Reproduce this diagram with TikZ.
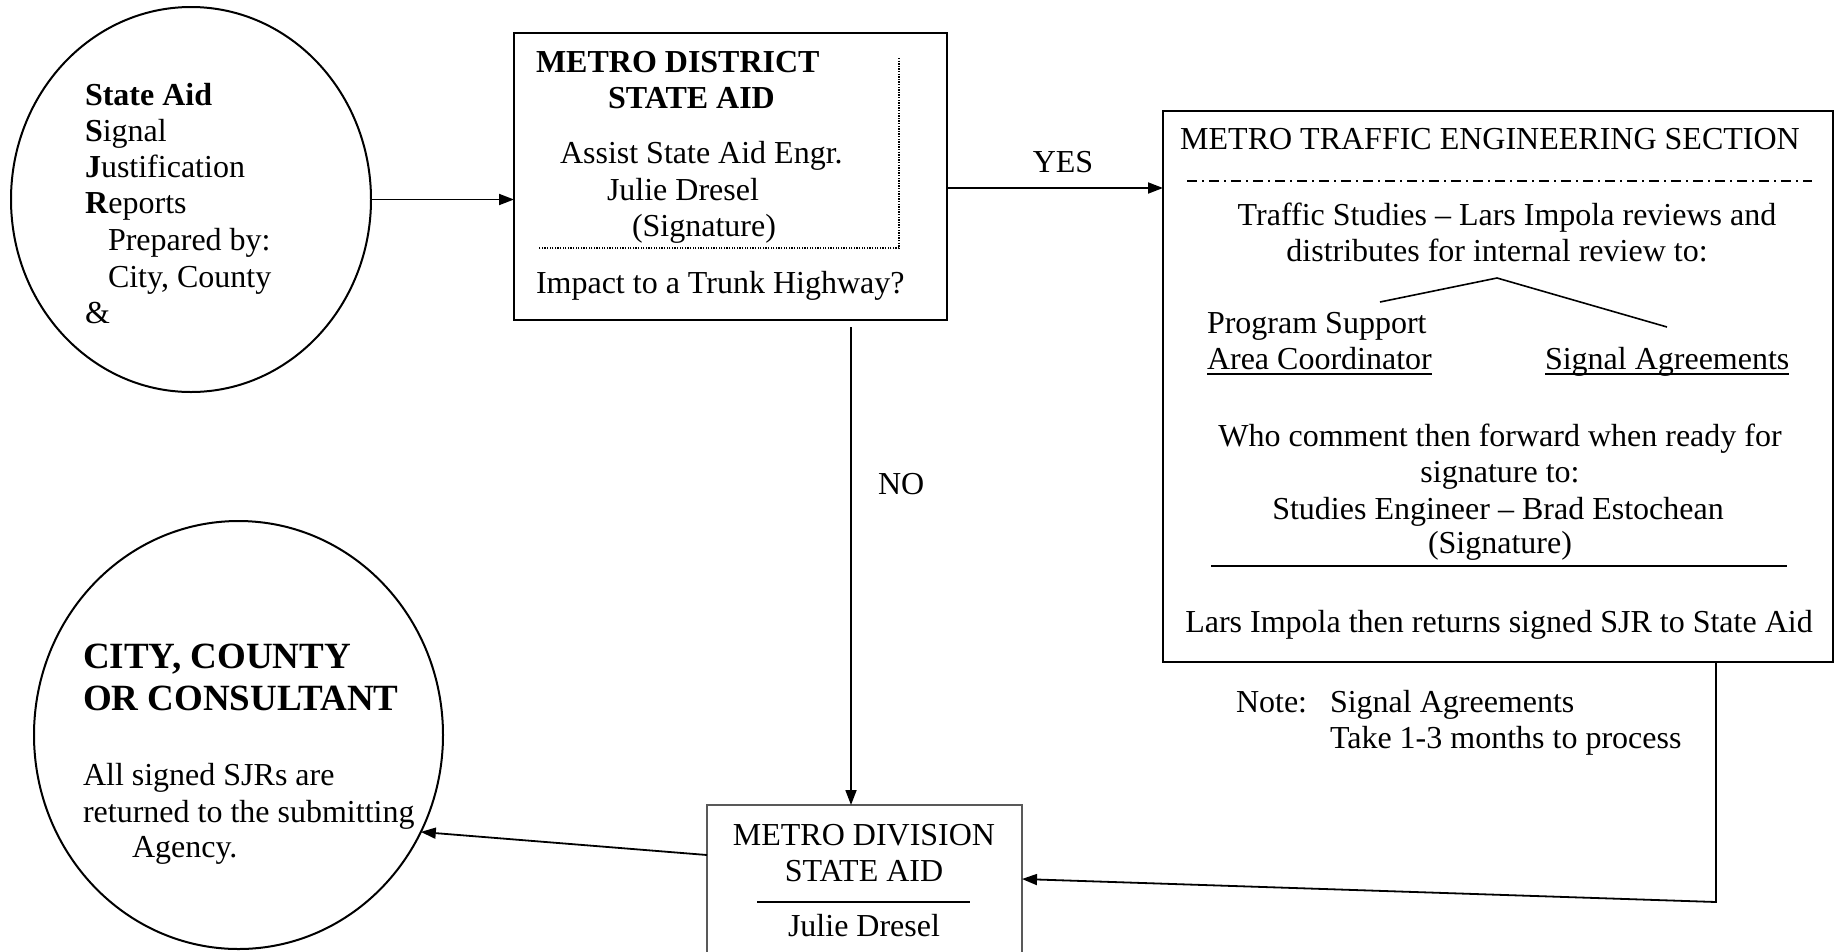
\documentclass[tikz,border=0pt]{standalone}
\usepackage{fontspec}
\setmainfont{Liberation Serif}
\usetikzlibrary{shapes.geometric,arrows.meta}
\begin{document}
\begin{tikzpicture}[x=1pt,y=-1pt,
  txt/.style={inner sep=0pt, outer sep=0pt, font=\fontsize{32}{36.5}\selectfont},
  bigtxt/.style={inner sep=0pt, outer sep=0pt, font=\fontsize{37}{42}\selectfont\bfseries},
  blk/.style={draw=black, line width=2pt, rectangle, inner sep=0pt, outer sep=0pt},
  oval/.style={draw=black, line width=2pt, ellipse, inner sep=0pt, outer sep=0pt},
  conn/.style={line width=1.8pt, -{Triangle[length=15pt,width=11pt]}},
  rulel/.style={line width=2pt},
  dotl/.style={line width=1.3pt, dash pattern=on 1.3pt off 1.3pt},
  dashdotl/.style={line width=1.3pt, dash pattern=on 10pt off 5pt on 2pt off 5pt}
]
\useasboundingbox (0,0) rectangle (1835,951);
\clip (0,0) rectangle (1835,951);

% shapes
\node[oval, minimum width=360pt, minimum height=385pt] (e1) at (191,199.5) {};
\node[oval, minimum width=409pt, minimum height=428pt] (e2) at (238.5,735) {};
\node[blk, minimum width=433pt, minimum height=287pt] (b1) at (730.5,176.5) {};
\node[blk, minimum width=670pt, minimum height=551pt] (b3) at (1498,386.5) {};
\node[draw=black!65, line width=1.4pt, rectangle, inner sep=0pt, outer sep=0pt,
      minimum width=315pt, minimum height=190pt] (b4) at (864.5,900) {};

% ellipse 1 text
\node[txt, anchor=base west] (t1a) at (85,105) {\textbf{State Aid}};
\node[txt, anchor=base west] (t1b) at (85,141) {\textbf{S}ignal};
\node[txt, anchor=base west] (t1c) at (85,177) {\textbf{J}ustification};
\node[txt, anchor=base west] (t1d) at (85,213) {\textbf{R}eports};
\node[txt, anchor=base west] (t1e) at (108,250) {Prepared by:};
\node[txt, anchor=base west] (t1f) at (108,287) {City, County};
\node[txt, anchor=base west] (t1g) at (85,323) {\&};

% box 1 text
\node[txt, anchor=base west] (t2a) at (536,72) {\textbf{METRO DISTRICT}};
\node[txt, anchor=base west] (t2b) at (608,108) {\textbf{STATE AID}};
\node[txt, anchor=base west] (t2c) at (560,163) {Assist State Aid Engr.};
\node[txt, anchor=base west] (t2d) at (607,200) {Julie Dresel};
\node[txt, anchor=base west] (t2e) at (632,236) {(Signature)};
\node[txt, anchor=base west] (t2f) at (536,293) {Impact to a Trunk Highway?};
\draw[dotl] (899,58) -- (899,248) -- (538,248);

% box 3 text
\node[txt, anchor=base] (t3a) at (1490,149) {METRO TRAFFIC ENGINEERING SECTION};
\draw[dashdotl] (1187,181) -- (1812,181);
\node[txt, anchor=base] (t3b) at (1507,225) {Traffic Studies – Lars Impola reviews and};
\node[txt, anchor=base] (t3c) at (1497,261) {distributes for internal review to:};
\draw[line width=1.6pt] (1380,302) -- (1497,278) -- (1667,327);
\node[txt, anchor=base west] (t3d) at (1207,333) {Program Support};
\node[txt, anchor=base west] (t3e) at (1207,369) {Area Coordinator};
\node[txt, anchor=base west] (t3f) at (1545,369) {Signal Agreements};
\draw[line width=1.5pt] ([yshift=-5pt]t3e.base west) -- ([yshift=-5pt]t3e.base east);
\draw[line width=1.5pt] ([yshift=-5pt]t3f.base west) -- ([yshift=-5pt]t3f.base east);
\node[txt, anchor=base] (t3g) at (1500,446) {Who comment then forward when ready for};
\node[txt, anchor=base] (t3h) at (1500,482) {signature to:};
\node[txt, anchor=base] (t3i) at (1498,519) {Studies Engineer – Brad Estochean};
\node[txt, anchor=base] (t3j) at (1500,553) {(Signature)};
\draw[rulel] (1211,566) -- (1787,566);
\node[txt, anchor=base] (t3k) at (1499,632) {Lars Impola then returns signed SJR to State Aid};

% note
\node[txt, anchor=base west] (n1) at (1236,712) {Note:};
\node[txt, anchor=base west] (n2) at (1330,712) {Signal Agreements};
\node[txt, anchor=base west] (n3) at (1330,748) {Take 1-3 months to process};

% box 4 text
\node[txt, anchor=base] (t4a) at (864,845) {METRO DIVISION};
\node[txt, anchor=base] (t4b) at (864,881) {STATE AID};
\draw[rulel] (757,902) -- (970,902);
\node[txt, anchor=base] (t4c) at (864,936) {Julie Dresel};

% ellipse 2 text
\node[bigtxt, anchor=base west] (t5a) at (83,668) {CITY, COUNTY};
\node[bigtxt, anchor=base west] (t5b) at (83,710) {OR CONSULTANT};
\node[txt, anchor=base west] (t5c) at (83,785) {All signed SJRs are};
\node[txt, anchor=base west] (t5d) at (83,822) {returned to the submitting};
\node[txt, anchor=base west] (t5e) at (132,857) {Agency.};

% labels
\node[txt, anchor=base] (yes) at (1063,172) {YES};
\node[txt, anchor=base west] (no) at (878,494) {NO};

% connectors
\coordinate (yesrow) at (0,188);
\coordinate (nofrom) at (851,327);
\coordinate (riser) at (1716,902);
\coordinate (b4in) at (0,879);
\coordinate (b4out) at (0,855);
\draw[conn] (e1.east) -- (e1.east -| b1.west);
\draw[conn] (b1.east |- yesrow) -- (b3.west |- yesrow);
\draw[conn] (nofrom) -- (nofrom |- b4.north);
\draw[conn] (b3.south -| riser) -- (riser) -- (b4.east |- b4in);
\draw[conn] (b4.west |- b4out) -- (e2.332.6);
\end{tikzpicture}
\end{document}
